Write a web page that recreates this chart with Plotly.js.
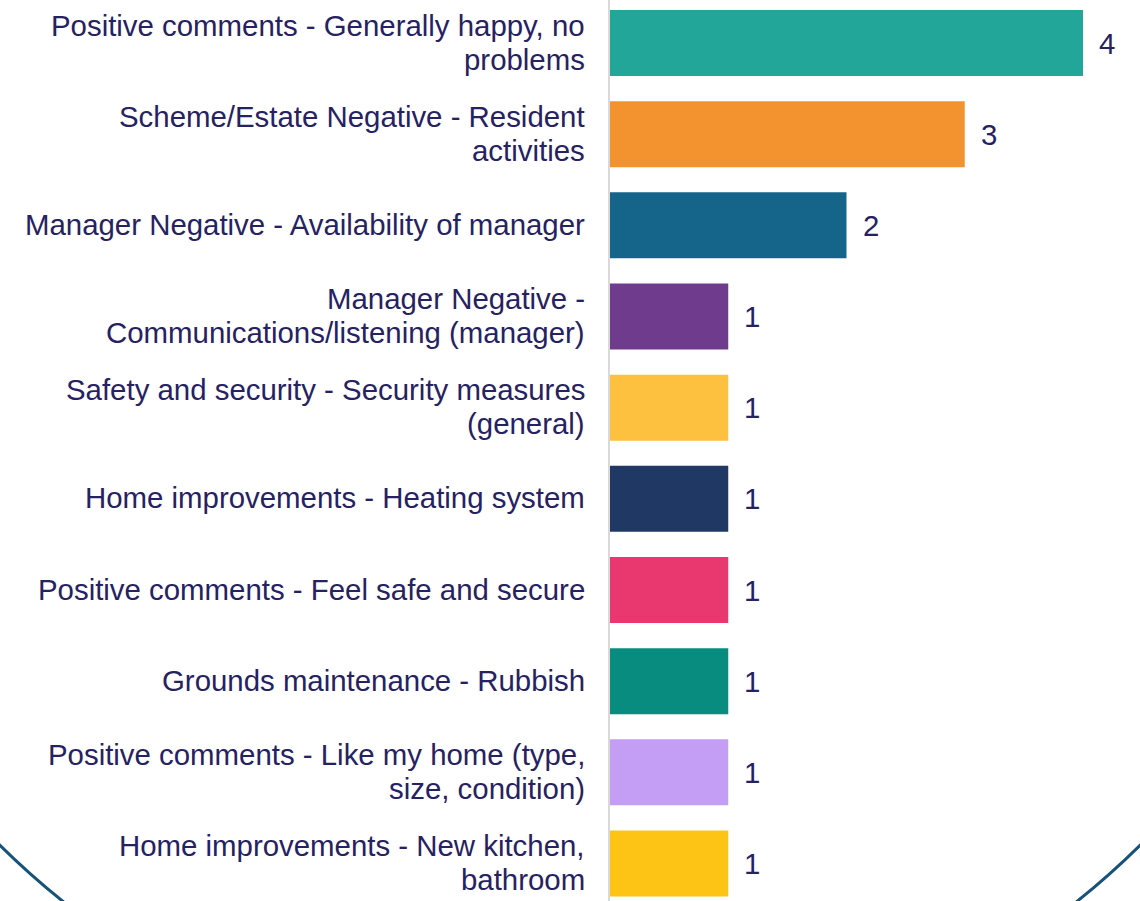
<!DOCTYPE html>
<html>
<head>
<meta charset="utf-8">
<script src="https://cdn.plot.ly/plotly-3.0.1.min.js"></script>
<style>html,body{margin:0;padding:0;background:#fff;}#chart{width:1140px;height:901px;}</style>
</head>
<body>
<div id="chart"></div>
<script>
var categories = [
  "Positive comments - Generally happy, no<br>problems",
  "Scheme/Estate Negative - Resident<br>activities",
  "Manager Negative - Availability of manager",
  "Manager Negative -<br>Communications/listening (manager)",
  "Safety and security - Security measures<br>(general)",
  "Home improvements - Heating system",
  "Positive comments - Feel safe and secure",
  "Grounds maintenance - Rubbish",
  "Positive comments - Like my home (type,<br>size, condition)",
  "Home improvements - New kitchen,<br>bathroom"
];
var values = [4, 3, 2, 1, 1, 1, 1, 1, 1, 1];
var barColors = ["#22A699", "#F2932F", "#156489", "#6F3B8D", "#FDC13F",
                 "#203864", "#E9386F", "#078C7F", "#C49EF5", "#FDC415"];

var textColor = "#262262";
var fontFam = "Arial, 'Liberation Sans', sans-serif";
var fsize = 29.4;

var trace = {
  type: "bar",
  orientation: "h",
  y: categories,
  x: values,
  marker: {color: barColors},
  hoverinfo: "none"
};

var annotations = values.map(function (v, i) {
  return {
    x: v, y: categories[i], xref: "x", yref: "y",
    text: String(v), showarrow: false,
    xanchor: "left", yanchor: "middle", xshift: 14,
    font: {family: fontFam, size: fsize, color: textColor}
  };
});

// category labels, one annotation per line for tighter line spacing
var lineGap = 34;
categories.forEach(function (c) {
  var lines = c.split("<br>");
  var n = lines.length;
  lines.forEach(function (ln, j) {
    annotations.push({
      x: 0, y: c, xref: "paper", yref: "y",
      text: ln, showarrow: false,
      xanchor: "right", yanchor: "middle",
      xshift: -23, yshift: ((n - 1) / 2 - j) * lineGap + 1,
      font: {family: fontFam, size: fsize, color: textColor}
    });
  });
});

// decorative circle outline (paper coords: plot area x 610..1140, y 0..901)
function px2X(px) { return (px - 610) / 530; }
function py2Y(py) { return (901 - py) / 901; }
var cx = 570, cy = 267, R = 812;

var layout = {
  width: 1140, height: 901,
  margin: {l: 610, r: 0, t: 0, b: 0, pad: 0},
  paper_bgcolor: "#ffffff",
  plot_bgcolor: "rgba(0,0,0,0)",
  showlegend: false,
  bargap: 0.276,
  font: {family: fontFam, size: fsize, color: textColor},
  xaxis: {
    range: [0, 4.482], showgrid: false, zeroline: false,
    showticklabels: false, showline: false, ticks: "", fixedrange: true
  },
  yaxis: {
    type: "category", categoryorder: "array", categoryarray: categories,
    range: [9.411, -0.472], showgrid: false, zeroline: false,
    showline: true, linecolor: "#d9d9d9", linewidth: 2, ticks: "",
    showticklabels: false,
    fixedrange: true
  },
  annotations: annotations,
  shapes: [{
    type: "circle", xref: "paper", yref: "paper", layer: "below",
    x0: px2X(cx - R), x1: px2X(cx + R),
    y0: py2Y(cy + R), y1: py2Y(cy - R),
    line: {color: "#17527B", width: 3}, fillcolor: "rgba(0,0,0,0)"
  }]
};

Plotly.newPlot("chart", [trace], layout, {displayModeBar: false, staticPlot: true});
</script>
</body>
</html>
